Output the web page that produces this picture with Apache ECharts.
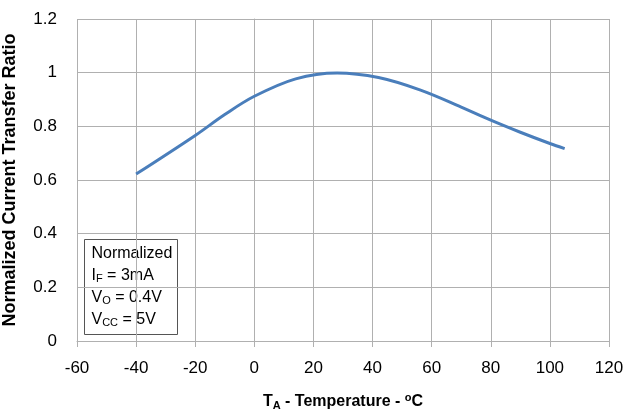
<!DOCTYPE html>
<html><head><meta charset="utf-8">
<script src="https://cdn.jsdelivr.net/npm/echarts@6/dist/echarts.min.js"></script>
<style>html,body{margin:0;padding:0;background:#fff}#c{width:624px;height:410px}</style>
</head><body><div id="c"></div>
<script>
var temperatures = [-40, -20, -10, 0, 14, 28, 42, 56, 70, 80, 90, 100, 105];
var ctrValues    = [0.622, 0.766, 0.844, 0.912, 0.977, 0.999, 0.982, 0.936, 0.872, 0.823, 0.778, 0.736, 0.717];
var xTicks = [-60, 120, 20];
var yTicks = [0, 1.2, 0.2];

var chart = echarts.init(document.getElementById('c'), null, {renderer:'canvas'});
var font = 'Liberation Sans';
var gridColor = '#b0b0b0';
chart.setOption({
  animation: false,
  grid: {left: 77, right: 15, top: 19, bottom: 69, containLabel: false, outerBoundsMode: 'none'},
  xAxis: {
    type: 'value', min: xTicks[0], max: xTicks[1], interval: xTicks[2],
    axisLine: {show: true, lineStyle: {color: gridColor, width: 1}},
    axisTick: {show: true, length: 6, lineStyle: {color: gridColor}},
    splitLine: {show: true, lineStyle: {color: gridColor, width: 1}},
    axisLabel: {color: '#000', fontFamily: font, fontSize: 17, margin: 19},
    name: '{b|T}{sub|A}{b| - Temperature - }{sup|o}{b|C}',
    nameLocation: 'middle', nameGap: 51,
    nameTextStyle: {
      rich: {
        b: {fontFamily: font, fontWeight: 'bold', fontSize: 16, color: '#000'},
        sub: {fontFamily: font, fontWeight: 'bold', fontSize: 11, color: '#000', verticalAlign: 'bottom', padding: [8,0,0,0]},
        sup: {fontFamily: font, fontWeight: 'bold', fontSize: 11, color: '#000', verticalAlign: 'top', padding: [0,0,6,0]}
      }
    }
  },
  yAxis: {
    type: 'value', min: yTicks[0], max: yTicks[1], interval: yTicks[2],
    axisLine: {show: true, lineStyle: {color: gridColor, width: 1}},
    axisTick: {show: true, length: 6, lineStyle: {color: gridColor}},
    splitLine: {show: true, lineStyle: {color: gridColor, width: 1}},
    axisLabel: {color: '#000', fontFamily: font, fontSize: 17, margin: 20,
      formatter: function(v){ return String(Math.round(v*10)/10); }},
    name: 'Normalized Current Transfer Ratio',
    nameLocation: 'middle', nameGap: 58, nameRotate: 90,
    nameTextStyle: {fontFamily: font, fontWeight: 'bold', fontSize: 18, color: '#000'}
  },
  series: [{
    type: 'line', smooth: 0.35, symbol: 'none',
    data: temperatures.map(function(t,i){ return [t, ctrValues[i]]; }),
    lineStyle: {color: '#4a7ebb', width: 3}
  }],
  graphic: [{
    type: 'group', left: 84, top: 239,
    children: [
      {type: 'rect', shape: {x: 0, y: 0, width: 93, height: 95},
       style: {fill: '#fff', stroke: '#555', lineWidth: 1}},
      {type: 'text', left: 7, top: 3, style: {
        text: 'Normalized\n{n|I}{s|F}{n| = 3mA}\n{n|V}{s|O}{n| = 0.4V}\n{n|V}{s|CC}{n| = 5V}',
        font: '16px ' + font, fill: '#000', lineHeight: 22,
        rich: {
          n: {fontFamily: font, fontSize: 16, fill: '#000', lineHeight: 22},
          s: {fontFamily: font, fontSize: 11, fill: '#000', lineHeight: 22, padding: [7,0,0,0]}
        }
      }}
    ]
  }]
});
</script>
</body></html>
